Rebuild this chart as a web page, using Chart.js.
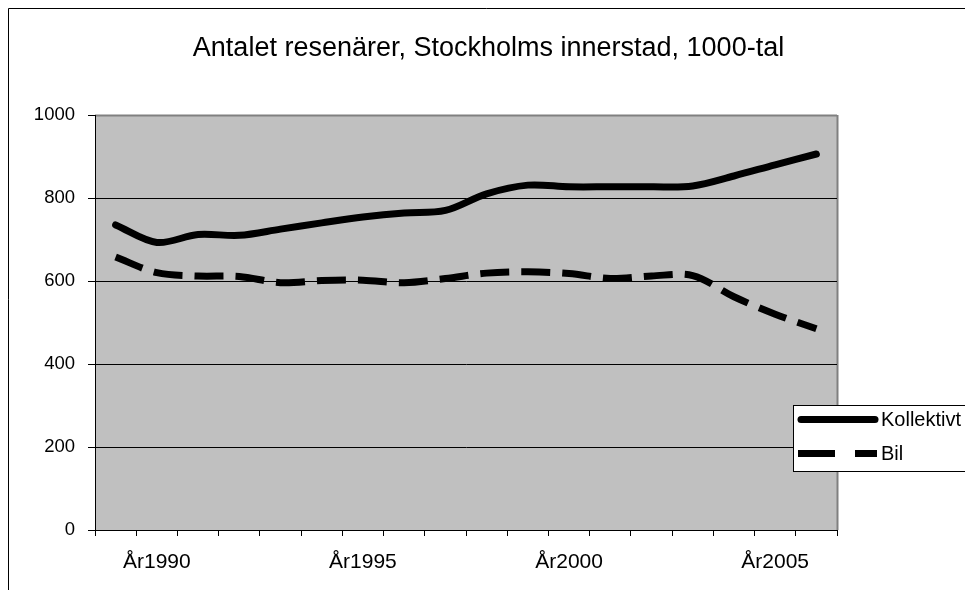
<!DOCTYPE html>
<html>
<head>
<meta charset="utf-8">
<script src="https://cdn.jsdelivr.net/npm/chart.js@4/dist/chart.umd.min.js"></script>
<style>
  html, body { margin: 0; padding: 0; background: #ffffff; }
  #wrap { width: 965px; height: 590px; position: relative; }
</style>
</head>
<body>
<div id="wrap"><canvas id="c" width="965" height="590"></canvas></div>
<script>
const categories = ["År1989","År1990","År1991","År1992","År1993","År1994","År1995","År1996","År1997","År1998","År1999","År2000","År2001","År2002","År2003","År2004","År2005","År2006"];
const shownLabels = ["År1990","År1995","År2000","År2005"];
const kollektivt = [735, 693, 712, 710, 725, 740, 754, 764, 770, 810, 831, 827, 827, 827, 829, 853, 880, 906];
const bil = [658, 620, 612, 611, 596, 601, 602, 596, 606, 619, 622, 618, 606, 612, 613, 562, 520, 485];
const yTicks = [0, 200, 400, 600, 800, 1000];
const titleText = "Antalet resenärer, Stockholms innerstad, 1000-tal";
const seriesNames = ["Kollektivt", "Bil"];

const FONT = "'Liberation Sans', Arial, sans-serif";

const framePlugin = {
  id: 'frame',
  beforeDraw(chart) {
    const ctx = chart.ctx;
    const a = chart.chartArea;
    ctx.save();
    // outer chart frame
    ctx.strokeStyle = '#000';
    ctx.lineWidth = 1;
    ctx.beginPath();
    ctx.moveTo(8.5, 590);
    ctx.lineTo(8.5, 8.5);
    ctx.lineTo(965, 8.5);
    ctx.stroke();
    // plot area
    ctx.fillStyle = '#C0C0C0';
    ctx.fillRect(a.left, a.top, a.right - a.left, a.bottom - a.top);
    ctx.strokeStyle = '#808080';
    ctx.lineWidth = 2;
    ctx.beginPath();
    ctx.moveTo(a.left, a.top + 0.5);
    ctx.lineTo(a.right, a.top + 0.5);
    ctx.moveTo(a.right + 0.5, a.top);
    ctx.lineTo(a.right + 0.5, a.bottom);
    ctx.stroke();
    // title
    ctx.fillStyle = '#000';
    ctx.font = '27px ' + FONT;
    ctx.textAlign = 'center';
    ctx.textBaseline = 'middle';
    ctx.fillText(titleText, 488.5, 49);
    ctx.restore();
  }
};

const legendPlugin = {
  id: 'customLegend',
  afterDraw(chart) {
    const ctx = chart.ctx;
    ctx.save();
    const x0 = 793.5, y0 = 405.5, h = 66;
    ctx.fillStyle = '#fff';
    ctx.fillRect(x0, y0, 965 - x0 + 5, h);
    ctx.strokeStyle = '#000';
    ctx.lineWidth = 1;
    ctx.strokeRect(x0, y0, 965 - x0 + 5, h);
    // Kollektivt sample
    ctx.lineWidth = 7;
    ctx.lineCap = 'round';
    ctx.beginPath();
    ctx.moveTo(801, 419.5);
    ctx.lineTo(875, 419.5);
    ctx.stroke();
    // Bil sample
    ctx.lineCap = 'butt';
    ctx.beginPath();
    ctx.moveTo(798, 453.5);
    ctx.lineTo(835, 453.5);
    ctx.moveTo(855, 453.5);
    ctx.lineTo(877, 453.5);
    ctx.stroke();
    ctx.fillStyle = '#000';
    ctx.font = '20px ' + FONT;
    ctx.textAlign = 'left';
    ctx.textBaseline = 'middle';
    ctx.fillText(seriesNames[0], 881, 420);
    ctx.fillText(seriesNames[1], 881, 454);
    ctx.restore();
  }
};

new Chart(document.getElementById('c'), {
  type: 'line',
  data: {
    labels: categories,
    datasets: [
      {
        label: seriesNames[0],
        data: kollektivt,
        borderColor: '#000',
        borderWidth: 7,
        borderCapStyle: 'round',
        borderJoinStyle: 'round',
        pointRadius: 0,
        tension: 0.33,
        fill: false
      },
      {
        label: seriesNames[1],
        data: bil,
        borderColor: '#000',
        borderWidth: 7,
        borderDash: [29, 12],
        borderCapStyle: 'butt',
        pointRadius: 0,
        tension: 0.33,
        fill: false
      }
    ]
  },
  options: {
    responsive: false,
    animation: false,
    devicePixelRatio: 1,
    layout: { padding: { left: 0, right: 128, top: 115, bottom: 0 } },
    plugins: {
      legend: { display: false },
      tooltip: { enabled: false },
      title: { display: false }
    },
    scales: {
      x: {
        offset: true,
        grid: {
          display: true,
          drawOnChartArea: false,
          drawTicks: true,
          tickLength: 6,
          offset: true,
          tickColor: '#000'
        },
        border: { display: true, color: '#000', width: 1 },
        ticks: {
          autoSkip: false,
          maxRotation: 0,
          minRotation: 0,
          padding: 14,
          color: '#000',
          font: { family: FONT, size: 21 },
          callback: function(v, i) {
            const l = categories[i];
            return shownLabels.includes(l) ? l : '';
          }
        },
        afterFit: function(s) { s.height = 60; }
      },
      y: {
        min: 0,
        max: 1000,
        afterBuildTicks: function(s) { s.ticks = yTicks.map(v => ({ value: v })); },
        grid: {
          color: function(c) { return (c.tick && c.tick.value === 1000) ? '#808080' : '#000'; },
          lineWidth: 1,
          drawTicks: true,
          tickLength: 7,
          tickColor: '#000'
        },
        border: { display: true, color: '#000', width: 1 },
        ticks: {
          padding: 13,
          color: '#000',
          font: { family: FONT, size: 18.5 },
          callback: function(v) { return String(v); }
        },
        afterFit: function(s) { s.width = 95; }
      }
    }
  },
  plugins: [framePlugin, legendPlugin]
});
</script>
</body>
</html>
